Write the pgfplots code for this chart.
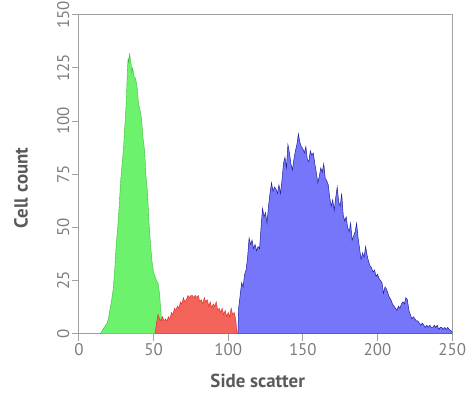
\documentclass[border=0pt]{standalone}
\usepackage{fontspec}
\setmainfont{PT Sans}
\usepackage{pgfplots}
\pgfplotsset{compat=1.18}
\definecolor{gfill}{RGB}{108,242,108}
\definecolor{gline}{RGB}{60,190,60}
\definecolor{rfill}{RGB}{245,100,90}
\definecolor{rline}{RGB}{215,40,35}
\definecolor{bfill}{RGB}{118,118,250}
\definecolor{bline}{RGB}{30,30,160}
\definecolor{axgray}{RGB}{160,160,160}
\definecolor{tickgray}{RGB}{125,125,125}
\definecolor{labgray}{RGB}{90,90,90}
\begin{document}
\begin{tikzpicture}
\begin{axis}[
  name=ax,
  scale only axis,
  width=374bp, height=319.5bp,
  xmin=0, xmax=250, ymin=0, ymax=150,
  xtick={0,50,...,250}, ytick={0,25,...,150},
  axis line style={draw=axgray, line width=1bp},
  every tick/.style={draw=axgray, line width=1bp},
  tick align=outside, major tick length=7bp,
  xtick pos=bottom, ytick pos=left,
  /pgf/number format/assume math mode=true,
  ticklabel style={font=\fontsize{17}{19}\selectfont, text=tickgray, inner sep=1bp},
  xticklabel style={yshift=-1.3bp},
  yticklabel style={rotate=90, anchor=south, yshift=1.3bp},
  xlabel={Side scatter}, ylabel={Cell count},
  label style={font=\bfseries\fontsize{19}{21}\selectfont, text=labgray, inner sep=0pt},
  xlabel style={at={(axis description cs:0.479,-0.147)}, anchor=center},
  ylabel style={at={(axis description cs:-0.155,0.457)}, anchor=center},
  clip=true,
]
% green population
\addplot[fill=gfill, draw=gline, line width=0.4bp] coordinates {
(14,0) (15,0.5) (16,2) (17,3) (18,4) (19,5) (20,8) (21,12) (22,16) (23,21) (24,30) (25,42) (26,50) (27,60) (28,72) (29,80) (30,88) (30.5,95) (31,100) (31.5,106) (32,114) (32.5,124) (33,130) (33.5,127) (34,132) (34.5,129) (35,127) (35.5,123) (36,125) (37,121) (38,120) (39,116) (40,108) (41,105) (42,101) (43,92) (44,86) (45,74) (46,66) (47,52) (48,42) (49,34) (50,29) (51,27) (52,25) (53,24) (54,19) (55,10) (56,0)
} \closedcycle;
% red population
\addplot[fill=rfill, draw=rline, line width=0.4bp] coordinates {
(51,0) (52,5) (53,9) (54,7) (55,6) (56,8) (57,6) (58,7) (59,6) (60,8) (61,7) (62,10) (63,9) (64,12) (65,11) (66,13) (67,12) (68,15) (69,14) (70,17) (71,15) (72,16) (73,18) (74,17) (75,18) (76,18) (77,17) (78,18) (79,17) (80,18) (81,15) (82,16) (83,14) (84,17) (85,15) (86,16) (87,13) (88,15) (89,12) (90,14) (91,13) (92,15) (93,11) (94,12) (95,10) (96,12) (97,9) (98,11) (99,8) (100,10) (101,8) (102,12) (103,9) (104,10) (105,7) (106,0)
} \closedcycle;
% blue population
\addplot[fill=bfill, draw=bline, line width=0.5bp] coordinates {
(106.5,0) (107,12) (108,18) (109,24) (110,22) (111,28) (112,30) (113,36) (114,45) (115,42) (116,44) (117,40) (118,42) (119,39) (120,41) (121,40) (122,50) (123,59) (124,55) (125,57) (126,52) (127,60) (128,66) (129,71) (130,67) (131,69) (132,68) (133,66) (134,70) (135,66) (136,72) (137,80) (138,83) (139,78) (140,89) (141,85) (142,80) (143,77) (144,82) (145,86) (146,89) (147,94) (148,90) (149,88) (150,87) (151,85) (152,88) (153,82) (154,81) (155,86) (156,84) (157,85) (158,80) (159,76) (160,71) (161,74) (162,78) (163,76) (164,80) (165,73) (166,72) (167,70) (168,64) (169,60) (170,63) (171,58) (172,64) (173,69) (174,62) (175,60) (176,66) (177,56) (178,53) (179,55) (180,50) (181,48) (182,52) (183,44) (184,46) (185,48) (186,52) (187,45) (188,40) (189,35) (190,38) (191,36) (192,41) (193,37) (194,34) (195,32) (196,31) (197,29) (198,30) (199,27) (200,28) (201,26) (202,25) (203,24) (204,19) (205,22) (206,21) (207,19) (208,17) (209,16) (210,14) (211,13) (212,12) (213,11) (214,13) (215,12) (216,14) (217,15) (218,14) (219,17) (220,16) (221,11) (222,9) (223,7) (224,8) (225,7) (226,6) (227,6) (228,5) (229,4) (230,5) (231,4) (232,3) (233,4) (234,3) (235,4) (236,3) (237,3) (238,4) (239,3) (240,4) (241,2) (242,3) (243,3) (244,2) (245,3) (246,2) (247,3) (248,2) (249,1.5) (250,1)
} \closedcycle;
\end{axis}
\path ([shift={(-79bp,-58.5bp)}]ax.south west) rectangle ([shift={(14bp,14bp)}]ax.north east);
\end{tikzpicture}
\end{document}
